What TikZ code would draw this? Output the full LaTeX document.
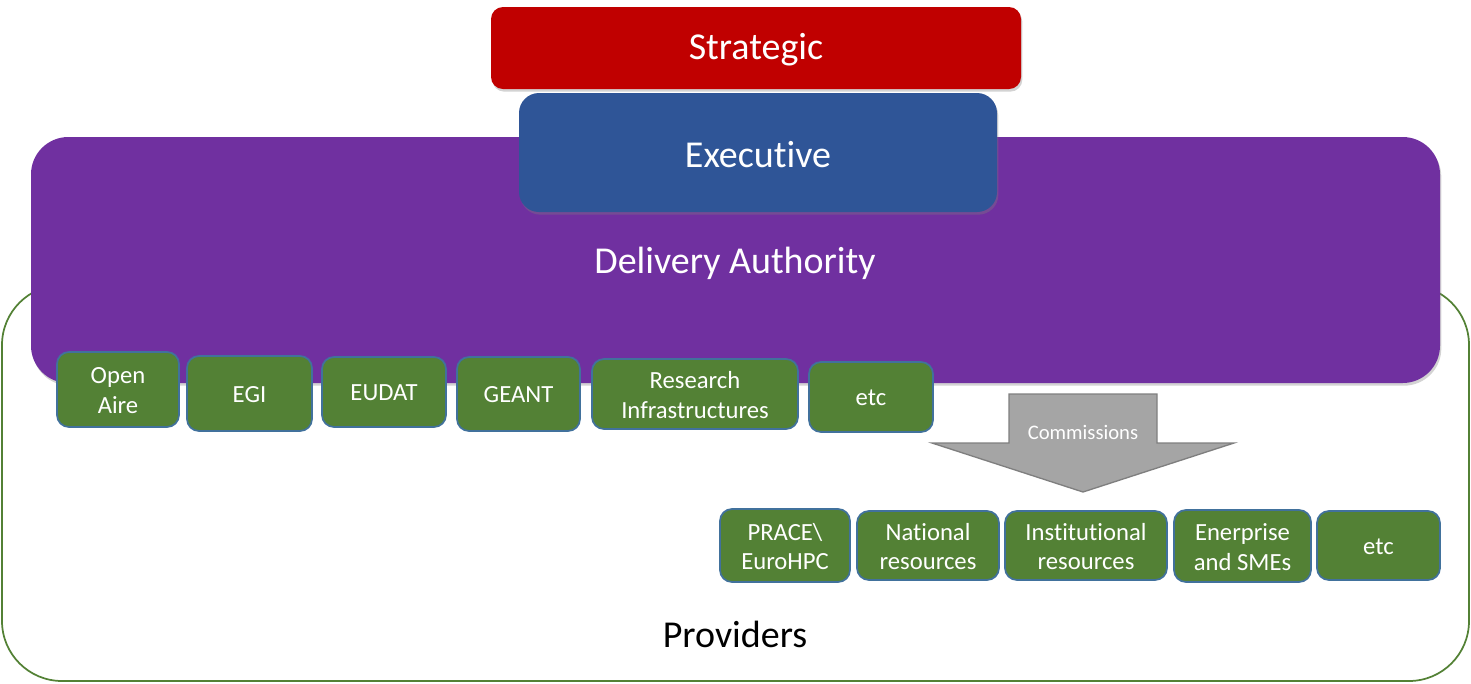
\documentclass[tikz,border=0pt]{standalone}
\usepackage{fontspec}
\setmainfont{Carlito}[Ligatures={CommonOff}]
\usetikzlibrary{shadows}
\definecolor{stratred}{HTML}{C00000}
\definecolor{execblue}{HTML}{2F5597}
\definecolor{delpurple}{HTML}{7030A0}
\definecolor{provgreen}{HTML}{538135}
\definecolor{boxedge}{HTML}{41719C}
\definecolor{arrowgrey}{HTML}{A5A5A5}
\definecolor{arrowedge}{HTML}{7F7F7F}
\tikzset{
  big/.style={font=\fontsize{28.5}{32}\selectfont},
  shade/.style={drop shadow={shadow xshift=1pt,shadow yshift=-2pt,opacity=0.35}},
  gbox/.style={fill=provgreen, draw=boxedge, line width=1.3pt, rounded corners=9pt},
  gtext/.style={text=white, font=\fontsize{18.5}{22}\selectfont, align=center},
}
\begin{document}
\begin{tikzpicture}[x=0.75pt,y=-0.75pt]
\useasboundingbox (0,0) rectangle (1471,683);
% providers
\draw[provgreen, line width=1.3pt, rounded corners=45pt] (2,285) rectangle (1469,681);
\node[big] (prov) at (735,634) {Providers};
% delivery authority
\fill[delpurple, rounded corners=28pt, shade] (31,137) rectangle (1440,383);
\node[big, text=white] (del) at (735,263) {Delivery Authority};
% strategic
\fill[stratred, rounded corners=9pt, shade] (491,7) rectangle (1021,89);
\node[big, text=white] (strat) at (756,50) {Strategic};
% executive
\fill[execblue, rounded corners=15pt, shade] (519,93) rectangle (997,212);
\node[big, text=white] (exec) at (758,155) {Executive};
% green boxes
\newcommand{\gb}[6]{%
  \draw[gbox] (#2,#3) rectangle (#4,#5);
  \node[gtext] (#1) at ({(#2+#4)/2},{(#3+#5)/2+1}) {#6};}
\gb{oa}{57}{352}{179}{427}{Open\\Aire}
\gb{egi}{187}{356}{312}{431}{EGI}
\gb{eudat}{322}{357}{446}{427}{EUDAT}
\gb{geant}{457}{357}{580}{431}{GEANT}
\gb{ri}{592}{359}{798}{429}{Research\\Infrastructures}
\gb{etca}{809}{362}{933}{432}{etc}
\gb{prace}{720}{509}{850}{582}{PRACE\textbackslash\\EuroHPC}
\gb{nat}{857}{511}{999}{580}{National\\resources}
\gb{inst}{1005}{511}{1167}{580}{Institutional\\resources}
\gb{ent}{1174}{510}{1311}{582}{Enerprise\\and SMEs}
\gb{etcb}{1317}{511}{1440}{580}{etc}
% arrow
\draw[fill=arrowgrey, draw=arrowedge, line width=1pt, line join=miter]
  (1009,394) -- (1157,394) -- (1157,443) -- (1234,443) -- (1083,492) -- (932,443) -- (1009,443) -- cycle;
\node[text=white, font=\fontsize{15.5}{18}\selectfont] (comm) at (1083,432) {Commissions};
\end{tikzpicture}
\end{document}
